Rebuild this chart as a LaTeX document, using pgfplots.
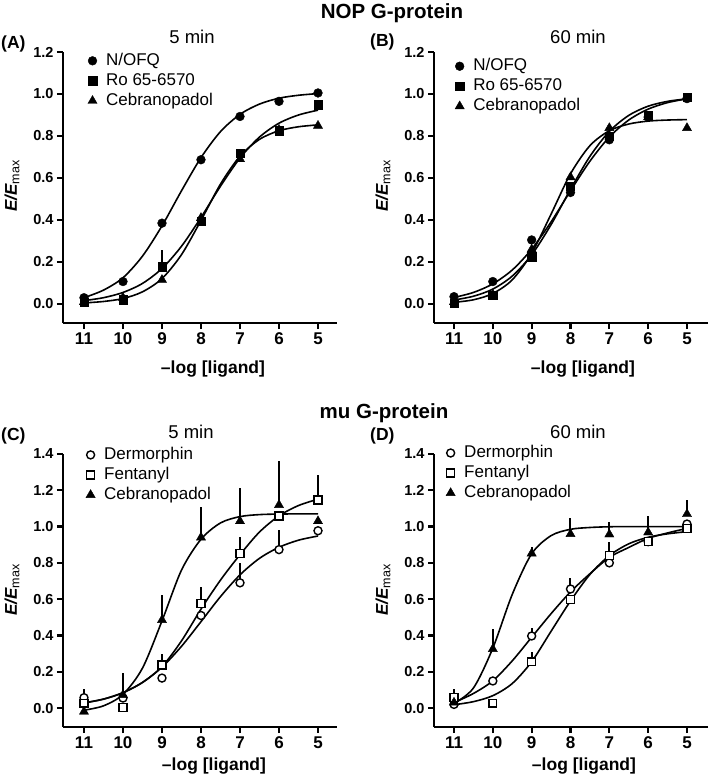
\documentclass[border=0pt]{standalone}
\usepackage{pgfplots}
\pgfplotsset{compat=1.18}
\usepackage{fontspec}
\setmainfont{Liberation Sans}
\pgfplotsset{
  panel/.style={
    scale only axis, width=274pt, x dir=reverse,
    axis x line=bottom, axis y line=left,
    axis line style={-, line width=2.2pt},
    tick style={line width=2.2pt, black},
    major tick length=6pt, tick align=outside,
    xtick={5,6,7,8,9,10,11},
    minor tick num=0,
    /pgf/number format/assume math mode=true,
    xticklabel style={font=\fontsize{17}{17}\selectfont\bfseries},
    yticklabel style={font=\fontsize{14.5}{15}\selectfont\bfseries,
      /pgf/number format/.cd, fixed, fixed zerofill, precision=1},
    clip=false,
    legend cell align=left,
    legend style={draw=none, fill=none, inner sep=0pt, outer sep=0pt,
      font=\fontsize{17}{17}\selectfont, row sep=4pt,
      nodes={inner sep=0pt, text height=12.3pt, text depth=3.7pt},
      /tikz/every odd column/.append style={column sep=9pt}},
  },
  crv/.style={black, line width=1.6pt, smooth, no marks, forget plot},
  pts/.style={black, only marks,
    legend image code/.code={\draw[##1] plot coordinates {(0pt,0pt)};},
    error bars/y dir=plus, error bars/y explicit, error bars/error mark=none,
    error bars/error bar style={line width=2pt}},
  mfc/.style={mark=*, mark size=4.4pt},
  mfs/.style={mark=square*, mark size=4.2pt},
  mft/.style={mark=triangle*, mark size=5.3pt},
  moc/.style={mark=*, mark size=4.0pt, mark options={fill=white, line width=1.4pt}},
  mos/.style={mark=square*, mark size=3.9pt, mark options={fill=white, line width=1.4pt}},
}
\begin{document}
\begin{tikzpicture}
\useasboundingbox (0pt,0pt) rectangle (709pt,-782pt);

% ---------------- Panel A ----------------
\begin{axis}[panel, at={(63pt,-323pt)}, anchor=south west, height=271pt,
  xmin=4.513, xmax=11.538, ymin=-0.0905, ymax=1.2, ytick={0,0.2,...,1.2},
  legend style={at={(0.091,0.997)}, anchor=north west}]
\addplot[crv] coordinates {(11,0.03)(10.5,0.066)(10,0.125)(9.5,0.228)(9,0.372)(8.5,0.539)(8,0.697)(7.5,0.821)(7,0.903)(6.5,0.952)(6,0.980)(5.5,0.994)(5,1.002)};
\addplot[crv] coordinates {(11,0.016)(10.5,0.030)(10,0.055)(9.5,0.098)(9,0.169)(8.5,0.275)(8,0.412)(7.5,0.561)(7,0.695)(6.5,0.795)(6,0.861)(5.5,0.900)(5,0.923)};
\addplot[crv] coordinates {(11,0.005)(10.5,0.012)(10,0.026)(9.5,0.058)(9,0.121)(8.5,0.235)(8,0.398)(7.5,0.571)(7,0.704)(6.5,0.784)(6,0.825)(5.5,0.844)(5,0.853)};
\addplot[pts, mfc] table[x=x, y=y, y error=e] {
x y e
11 0.030 0
10 0.107 0
9 0.385 0
8 0.687 0
7 0.893 0
6 0.965 0
5 1.005 0
};
\addlegendentry{N/OFQ}
\addplot[pts, mfs] table[x=x, y=y, y error=e] {
x y e
11 0.010 0
10 0.020 0
9 0.178 0.08
8 0.393 0
7 0.719 0.02
6 0.825 0
5 0.949 0
};
\addlegendentry{Ro 65-6570}
\addplot[pts, mft] table[x=x, y=y, y error=e] {
x y e
11 0.010 0
10 0.030 0
9 0.115 0
8 0.410 0
7 0.690 0
6 0.830 0
5 0.849 0
};
\addlegendentry{Cebranopadol}
\end{axis}

% ---------------- Panel B ----------------
\begin{axis}[panel, at={(434pt,-323pt)}, anchor=south west, height=271pt,
  xmin=4.459, xmax=11.515, ymin=-0.0905, ymax=1.2, ytick={0,0.2,...,1.2},
  legend style={at={(0.077,0.977)}, anchor=north west}]
\addplot[crv] coordinates {(11,0.031)(10.5,0.055)(10,0.096)(9.5,0.162)(9,0.261)(8.5,0.391)(8,0.539)(7.5,0.680)(7,0.795)(6.5,0.876)(6,0.928)(5.5,0.959)(5,0.977)};
\addplot[crv] coordinates {(11,0.019)(10.5,0.037)(10,0.071)(9.5,0.133)(9,0.234)(8.5,0.378)(8,0.546)(7.5,0.703)(7,0.822)(6.5,0.898)(6,0.942)(5.5,0.965)(5,0.977)};
\addplot[crv] coordinates {(11,0.008)(10.5,0.020)(10,0.050)(9.5,0.115)(9,0.241)(8.5,0.428)(8,0.620)(7.5,0.754)(7,0.825)(6.5,0.857)(6,0.871)(5.5,0.876)(5,0.878)};
\addplot[pts, mfc] table[x=x, y=y, y error=e] {
x y e
11 0.035 0
10 0.107 0
9 0.305 0
8 0.531 0
7 0.782 0
6 0.890 0
5 0.978 0
};
\addlegendentry{N/OFQ}
\addplot[pts, mfs] table[x=x, y=y, y error=e] {
x y e
11 0.003 0
10 0.043 0
9 0.226 0
8 0.560 0
7 0.800 0
6 0.900 0
5 0.986 0
};
\addlegendentry{Ro 65-6570}
\addplot[pts, mft] table[x=x, y=y, y error=e] {
x y e
11 0.010 0
10 0.045 0
9 0.260 0
8 0.604 0
7 0.838 0
6 0.890 0
5 0.838 0
};
\addlegendentry{Cebranopadol}
\end{axis}

% ---------------- Panel C ----------------
\begin{axis}[panel, at={(63pt,-727pt)}, anchor=south west, height=273pt,
  xmin=4.513, xmax=11.538, ymin=-0.1047, ymax=1.4, ytick={0,0.2,...,1.4},
  legend style={at={(0.084,1.026)}, anchor=north west}]
\addplot[crv] coordinates {(11,0.028)(10.5,0.049)(10,0.085)(9.5,0.141)(9,0.225)(8.5,0.340)(8,0.476)(7.5,0.614)(7,0.734)(6.5,0.825)(6,0.886)(5.5,0.925)(5,0.948)};
\addplot[crv] coordinates {(11,0.028)(10.5,0.049)(10,0.084)(9.5,0.141)(9,0.228)(8.5,0.370)(8,0.545)(7.5,0.705)(7,0.845)(6.5,0.970)(6,1.059)(5.5,1.116)(5,1.151)};
\addplot[crv] coordinates {(11,-0.012)(10.5,0.012)(10,0.075)(9.5,0.220)(9,0.480)(8.5,0.760)(8,0.930)(7.5,1.020)(7,1.055)(6.5,1.066)(6,1.069)(5.5,1.070)(5,1.070)};
\addplot[pts, moc] table[x=x, y=y, y error=e] {
x y e
11 0.057 0.046
10 0.055 0
9 0.165 0
8 0.510 0
7 0.690 0.11
6 0.873 0.11
5 0.977 0
};
\addlegendentry{Dermorphin}
\addplot[pts, mos] table[x=x, y=y, y error=e] {
x y e
11 0.026 0
10 0.003 0
9 0.237 0.06
8 0.577 0.088
7 0.852 0.09
6 1.058 0
5 1.146 0.138
};
\addlegendentry{Fentanyl}
\addplot[pts, mft] table[x=x, y=y, y error=e] {
x y e
11 -0.020 0
10 0.072 0.123
9 0.485 0.138
8 0.940 0.170
7 1.030 0.180
6 1.119 0.240
5 1.030 0
};
\addlegendentry{Cebranopadol}
\end{axis}

% ---------------- Panel D ----------------
\begin{axis}[panel, at={(434pt,-727pt)}, anchor=south west, height=273pt,
  xmin=4.459, xmax=11.515, ymin=-0.1047, ymax=1.4, ytick={0,0.2,...,1.4},
  legend style={at={(0.044,1.033)}, anchor=north west}]
\addplot[crv] coordinates {(11,0.03)(10.5,0.08)(10,0.15)(9.5,0.26)(9,0.39)(8.5,0.52)(8,0.64)(7.5,0.74)(7,0.83)(6.5,0.885)(6,0.935)(5.5,0.965)(5,0.99)};
\addplot[crv] coordinates {(11,0.018)(10.5,0.035)(10,0.068)(9.5,0.135)(9,0.255)(8.5,0.423)(8,0.590)(7.5,0.736)(7,0.840)(6.5,0.905)(6,0.941)(5.5,0.960)(5,0.972)};
\addplot[crv] coordinates {(11,0.025)(10.5,0.11)(10,0.330)(9.5,0.626)(9,0.850)(8.5,0.950)(8,0.985)(7.5,0.995)(7,0.999)(6.5,1.0)(6,1.0)(5.5,1.0)(5,1.0)};
\addplot[pts, moc] table[x=x, y=y, y error=e] {
x y e
11 0.020 0
10 0.149 0
9 0.397 0.045
8 0.656 0.060
7 0.800 0
6 0.917 0
5 1.014 0
};
\addlegendentry{Dermorphin}
\addplot[pts, mos] table[x=x, y=y, y error=e] {
x y e
11 0.057 0.046
10 0.026 0
9 0.255 0.055
8 0.599 0
7 0.840 0.077
6 0.917 0
5 0.990 0
};
\addlegendentry{Fentanyl}
\addplot[pts, mft] table[x=x, y=y, y error=e] {
x y e
11 0.030 0
10 0.325 0.110
9 0.852 0.035
8 0.959 0.090
7 0.957 0.070
6 0.968 0.090
5 1.069 0.080
};
\addlegendentry{Cebranopadol}
\end{axis}

% ---------------- Texts ----------------
\node[anchor=base, font=\fontsize{20.5}{20}\selectfont\bfseries] at (392pt,-18pt) {NOP G-protein};
\node[anchor=base, font=\fontsize{20.5}{20}\selectfont\bfseries] at (384pt,-418pt) {mu G-protein};
\node[anchor=base west, inner sep=0pt, font=\fontsize{17.5}{17}\selectfont\bfseries] at (1pt,-48pt) {(A)};
\node[anchor=base west, inner sep=0pt, font=\fontsize{17.5}{17}\selectfont\bfseries] at (370pt,-46pt) {(B)};
\node[anchor=base west, inner sep=0pt, font=\fontsize{17.5}{17}\selectfont\bfseries] at (1pt,-440pt) {(C)};
\node[anchor=base west, inner sep=0pt, font=\fontsize{17.5}{17}\selectfont\bfseries] at (370pt,-440pt) {(D)};
\node[anchor=base, font=\fontsize{18.5}{18}\selectfont] at (192pt,-43pt) {5 min};
\node[anchor=base, font=\fontsize{18.5}{18}\selectfont] at (578pt,-43pt) {60 min};
\node[anchor=base, font=\fontsize{18.5}{18}\selectfont] at (191pt,-438pt) {5 min};
\node[anchor=base, font=\fontsize{18.5}{18}\selectfont] at (578pt,-438pt) {60 min};
\node[anchor=base, font=\fontsize{17.5}{17}\selectfont\bfseries] at (213pt,-373pt) {\textendash log [ligand]};
\node[anchor=base, font=\fontsize{17.5}{17}\selectfont\bfseries] at (583pt,-373pt) {\textendash log [ligand]};
\node[anchor=base, font=\fontsize{17.5}{17}\selectfont\bfseries] at (214pt,-770pt) {\textendash log [ligand]};
\node[anchor=base, font=\fontsize{17.5}{17}\selectfont\bfseries] at (584pt,-770pt) {\textendash log [ligand]};
\foreach \xx/\yy in {12/186, 383/186, 12/590, 383/590}{
  \node[rotate=90, inner sep=0pt, font=\fontsize{17}{17}\selectfont] at (\xx pt,-\yy pt)
    {\textbf{\textit{E/E}}\textsubscript{\fontsize{12.5}{12}\selectfont max}};
}
\end{tikzpicture}
\end{document}
